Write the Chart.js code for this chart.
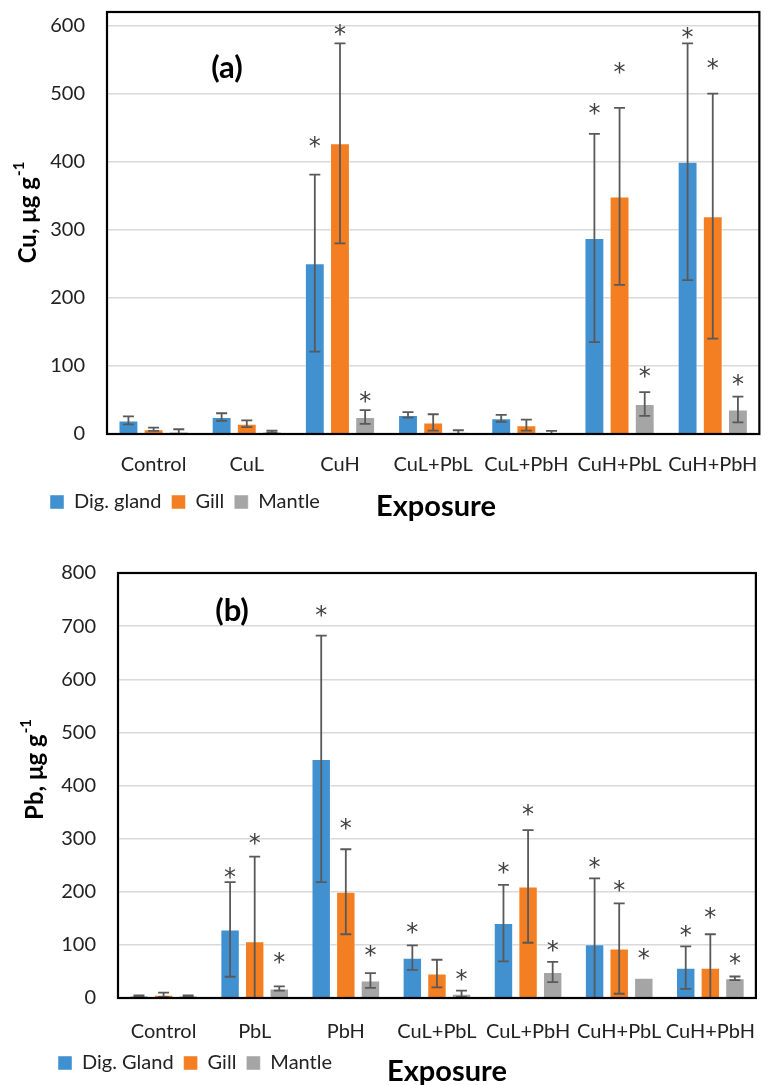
<!DOCTYPE html>
<html>
<head>
<meta charset="utf-8">
<script src="https://cdn.jsdelivr.net/npm/chart.js@4"></script>
<style>
  body { margin: 0; background: #fff; overflow: hidden; }
  .box { position: absolute; left: 0; width: 777px; }
  #boxA { top: -26px; height: 561px; }
  #boxB { top: 535px; height: 550px; }
</style>
</head>
<body>
<div class="box" id="boxA"><canvas id="chartA"></canvas></div>
<div class="box" id="boxB"><canvas id="chartB"></canvas></div>
<script>
// (a) Cu
const exposureA = ["Control", "CuL", "CuH", "CuL+PbL", "CuL+PbH", "CuH+PbL", "CuH+PbH"];
const cuDig = [20, 25, 251, 28, 23, 288, 400];
const cuDigErr = [6, 5.5, 130, 4, 5, 153, 174];
const cuGill = [7, 15, 427, 17, 13, 349, 320];
const cuGillErr = [2.5, 5, 147, 12, 8, 130, 180];
const cuMantle = [3, 3.5, 25, 2.5, 1.5, 44, 36];
const cuMantleErr = [4, 1.5, 10, 3, 3, 17.5, 19];
// where the significance stars sit (value units), null = no star
const cuDigStar = [null, null, 432, null, null, 480, 592];
const cuGillStar = [null, null, 597, null, null, 540, 547];
const cuMantleStar = [null, null, 57, null, null, 94, 82];
const cuTicks = [0, 100, 200, 300, 400, 500, 600];

// (b) Pb
const exposureB = ["Control", "PbL", "PbH", "CuL+PbL", "CuL+PbH", "CuH+PbL", "CuH+PbH"];
const pbDig = [4, 129, 450, 76, 141, 101, 57];
const pbDigErr = [1, 89, 232, 23, 72, 124, 40];
const pbGill = [6, 107, 200, 46, 210, 93, 57];
const pbGillErr = [4, 159, 80, 26, 106, 85, 63];
const pbMantle = [4, 18, 33, 8, 49, 38, 37];
const pbMantleErr = [1, 4, 14, 6, 19, 0, 3.5];
const pbDigStar = [null, 240, 733, 136, 249, 257, 130];
const pbGillStar = [null, 304, 331, null, 357, 215, 163];
const pbMantleStar = [null, 80, 93, 47, 102, 87, 78];
const pbTicks = [0, 100, 200, 300, 400, 500, 600, 700, 800];

const FONT = "Lato";
const BLUE = "#4191d0";
const ORANGE = "#f47f22";
const GRAY = "#a5a5a5";

// error bars + stars
const errorBars = {
  id: "errorBars",
  afterDatasetsDraw(chart) {
    const ctx = chart.ctx;
    const y = chart.scales.y;
    const area = chart.chartArea;
    ctx.save();
    ctx.beginPath();
    ctx.rect(area.left, area.top - 40, area.right - area.left, area.bottom - area.top + 40);
    ctx.clip();
    chart.data.datasets.forEach((ds, di) => {
      const meta = chart.getDatasetMeta(di);
      meta.data.forEach((bar, i) => {
        const v = ds.data[i];
        const e = ds.err[i];
        if (e) {
          const top = y.getPixelForValue(v + e);
          const bot = Math.min(y.getPixelForValue(v - e), area.bottom);
          ctx.strokeStyle = "#595959";
          ctx.lineWidth = 1.8;
          ctx.beginPath();
          ctx.moveTo(bar.x, top);
          ctx.lineTo(bar.x, bot);
          ctx.moveTo(bar.x - 5.5, top);
          ctx.lineTo(bar.x + 5.5, top);
          if (v - e >= 0) {
            ctx.moveTo(bar.x - 5.5, bot);
            ctx.lineTo(bar.x + 5.5, bot);
          }
          ctx.stroke();
        }
      });
    });
    ctx.restore();
    ctx.save();
    ctx.fillStyle = "#404040";
    ctx.font = "24px DejaVu Sans";
    ctx.textAlign = "center";
    ctx.textBaseline = "alphabetic";
    chart.data.datasets.forEach((ds, di) => {
      const meta = chart.getDatasetMeta(di);
      meta.data.forEach((bar, i) => {
        const s = ds.star[i];
        if (s != null) {
          ctx.fillText("*", bar.x, y.getPixelForValue(s) + 14);
        }
      });
    });
    ctx.restore();
  }
};

// frame, titles, panel letter
const decorations = {
  id: "decorations",
  afterDraw(chart, args, opts) {
    const ctx = chart.ctx;
    const a = chart.chartArea;
    ctx.save();
    ctx.strokeStyle = "#000";
    ctx.lineWidth = 2.2;
    ctx.strokeRect(a.left, a.top, a.right - a.left, a.bottom - a.top);

    ctx.fillStyle = "#000";
    ctx.font = "bold 31px " + FONT;
    ctx.textAlign = "center";
    ctx.textBaseline = "middle";
    ctx.fillText(opts.panel, opts.panelX, opts.panelY);

    ctx.font = "bold 29px " + FONT;
    ctx.textAlign = "left";
    ctx.fillText("Exposure", opts.xTitleX, opts.xTitleY);

    // rotated y title with superscript
    ctx.translate(opts.yTitleX, opts.yTitleY);
    ctx.rotate(-Math.PI / 2);
    ctx.font = "bold 24px " + FONT;
    const wMain = ctx.measureText(opts.yTitle).width;
    ctx.font = "bold 15px " + FONT;
    const wSup = ctx.measureText("-1").width;
    const start = -(wMain + wSup) / 2;
    ctx.font = "bold 24px " + FONT;
    ctx.fillText(opts.yTitle, start, 0);
    ctx.font = "bold 15px " + FONT;
    ctx.fillText("-1", start + wMain + 1, -9);
    ctx.restore();
  }
};

function makeChart(id, labels, series, names, ticks, yMax, layout) {
  const colors = [BLUE, ORANGE, GRAY];
  return new Chart(document.getElementById(id), {
    type: "bar",
    data: {
      labels: labels,
      datasets: series.map((s, k) => ({
        label: names[k],
        data: s.values,
        err: s.err,
        star: s.star,
        backgroundColor: colors[k],
        borderColor: "rgba(255,255,255,0.45)",
        borderWidth: 1,
        categoryPercentage: 0.81,
        barPercentage: 0.79
      }))
    },
    options: {
      responsive: true,
      maintainAspectRatio: false,
      animation: false,
      layout: { padding: layout.padding, autoPadding: false },
      plugins: {
        legend: {
          position: "bottom",
          align: "start",
          labels: {
            color: "#222",
            font: { family: FONT, size: 20 },
            boxWidth: 14,
            boxHeight: 14,
            padding: 10
          }
        },
        tooltip: { enabled: false },
        decorations: layout.deco
      },
      scales: {
        x: {
          grid: { display: false, drawTicks: false },
          border: { display: false },
          ticks: {
            color: "#222",
            font: { family: FONT, size: 20 },
            padding: layout.xPad,
            maxRotation: 0
          },
          afterFit(scale) { scale.height = layout.xHeight; }
        },
        y: {
          min: 0,
          max: yMax,
          afterBuildTicks(scale) {
            scale.ticks = ticks.map(v => ({ value: v }));
          },
          grid: { color: "#d9d9d9", lineWidth: 1.5, drawTicks: false },
          border: { display: false },
          ticks: {
            color: "#222",
            font: { family: FONT, size: 20 },
            padding: 22
          },
          afterFit(scale) { scale.width = layout.yWidth; }
        }
      }
    },
    plugins: [errorBars, decorations]
  });
}

// canvas A starts 26px above the page top
makeChart("chartA", exposureA, [
  { values: cuDig, err: cuDigErr, star: cuDigStar },
  { values: cuGill, err: cuGillErr, star: cuGillStar },
  { values: cuMantle, err: cuMantleErr, star: cuMantleStar }
], ["Dig. gland", "Gill", "Mantle"], cuTicks, 620, {
  padding: { left: 40, top: 38, right: 9, bottom: 13 },
  yWidth: 67,
  xHeight: 48,
  xPad: 19,
  deco: { panel: "(a)", panelX: 227, panelY: 94, xTitleX: 376, xTitleY: 533,
          yTitle: "Cu, μg g", yTitleX: 28, yTitleY: 239 }
});

makeChart("chartB", exposureB, [
  { values: pbDig, err: pbDigErr, star: pbDigStar },
  { values: pbGill, err: pbGillErr, star: pbGillStar },
  { values: pbMantle, err: pbMantleErr, star: pbMantleStar }
], ["Dig. Gland", "Gill", "Mantle"], pbTicks, 800, {
  padding: { left: 48, top: 38, right: 1, bottom: 2 },
  yWidth: 70,
  xHeight: 45,
  xPad: 22,
  deco: { panel: "(b)", panelX: 232, panelY: 76, xTitleX: 387, xTitleY: 537,
          yTitle: "Pb, μg g", yTitleX: 35, yTitleY: 235 }
});
</script>
</body>
</html>
